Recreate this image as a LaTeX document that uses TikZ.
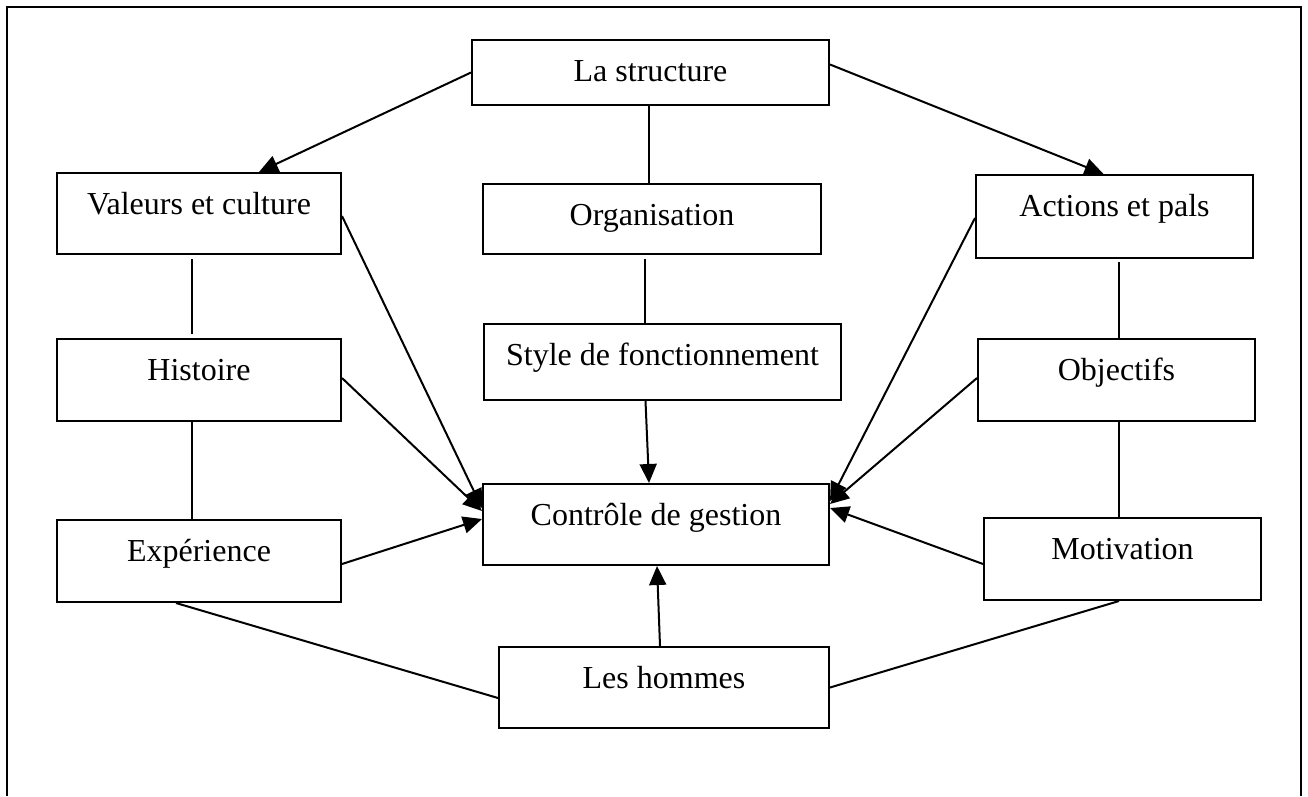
\documentclass[tikz,border=0pt]{standalone}
\usepackage{fontspec}
\setmainfont{Liberation Serif}
\usetikzlibrary{arrows.meta}
\begin{document}
\begin{tikzpicture}[x=1pt,y=-1pt,
  box/.style={draw, line width=2pt, inner sep=0pt, anchor=north west,
    text height=41pt, font=\fontsize{32}{36}\selectfont},
  link/.style={line width=2pt},
  arr/.style={line width=2pt, -{Triangle[length=19pt,width=17pt]}}]
\useasboundingbox (0,0) rectangle (1308,796);
\draw[line width=2pt] (7,796) -- (7,7) -- (1301,7) -- (1301,796);

\node[box, minimum width=357pt, text depth=24pt] (struct) at (471,39) {La structure};
\node[box, minimum width=284pt, text depth=40pt] (valeurs) at (56,172) {Valeurs et culture};
\node[box, minimum width=338pt, text depth=29pt] (org) at (482,183) {Organisation};
\node[box, minimum width=277pt, text depth=42pt] (actions) at (975,174) {Actions et pals};
\node[box, minimum width=284pt, text depth=41pt] (histoire) at (56,338) {Histoire};
\node[box, minimum width=357pt, text depth=35pt] (style) at (483,323) {Style de fonctionnement};
\node[box, minimum width=277pt, text depth=41pt] (objectifs) at (977,338) {Objectifs};
\node[box, minimum width=346pt, text depth=40pt] (controle) at (482,483) {Contrôle de gestion};
\node[box, minimum width=284pt, text depth=41pt] (experience) at (56,519) {Expérience};
\node[box, minimum width=277pt, text depth=41pt] (motivation) at (983,517) {Motivation};
\node[box, minimum width=330pt, text depth=40pt] (hommes) at (498,646) {Les hommes};

% top arrows
\draw[arr] (struct.west) -- ([xshift=60pt]valeurs.north);
\draw[arr] ([yshift=8pt]struct.east) -- ([xshift=-11pt]actions.north);

% central column
\draw[link] ([xshift=-2pt]struct.south) -- ([xshift=-2pt]struct.south |- org.north);
\draw[link] ([xshift=-7pt,yshift=-4pt]org.south) -- ([xshift=-7pt]org.south |- style.north);
\draw[arr] ([xshift=-17pt]style.south) -- ([xshift=-7pt]controle.north);
\draw[arr] ([xshift=-4pt]hommes.north) -- ([xshift=1pt]controle.south);

% left column
\draw[link] ([xshift=-7pt,yshift=-4pt]valeurs.south) -- ([xshift=-7pt,yshift=4pt]histoire.north);
\draw[link] ([xshift=-7pt]histoire.south) -- ([xshift=-7pt]experience.north);
\draw[arr] ([yshift=-2.5pt]valeurs.east) -- ([yshift=16.5pt]controle.west);
\draw[arr] ([yshift=2pt]histoire.east) -- ([yshift=13.5pt]controle.west);
\draw[arr] ([yshift=-3pt]experience.east) -- ([yshift=5.5pt]controle.west);

% right column
\draw[link] ([xshift=4.5pt,yshift=-3pt]actions.south) -- ([xshift=4.5pt]actions.south |- objectifs.north);
\draw[link] ([xshift=-3.5pt]motivation.north |- objectifs.south) -- ([xshift=-3.5pt]motivation.north);
\draw[arr] ([yshift=-1.5pt]actions.west) -- ([yshift=23.5pt]controle.east);
\draw[arr] ([yshift=2pt]objectifs.west) -- ([yshift=20.5pt]controle.east);
\draw[arr] ([yshift=-5pt]motivation.west) -- ([yshift=16.5pt]controle.east);

% bottom
\draw[link] ([xshift=-23pt]experience.south) -- ([yshift=-10.5pt]hommes.west);
\draw[link] (hommes.east) -- ([xshift=-3.5pt]motivation.south);
\end{tikzpicture}
\end{document}
